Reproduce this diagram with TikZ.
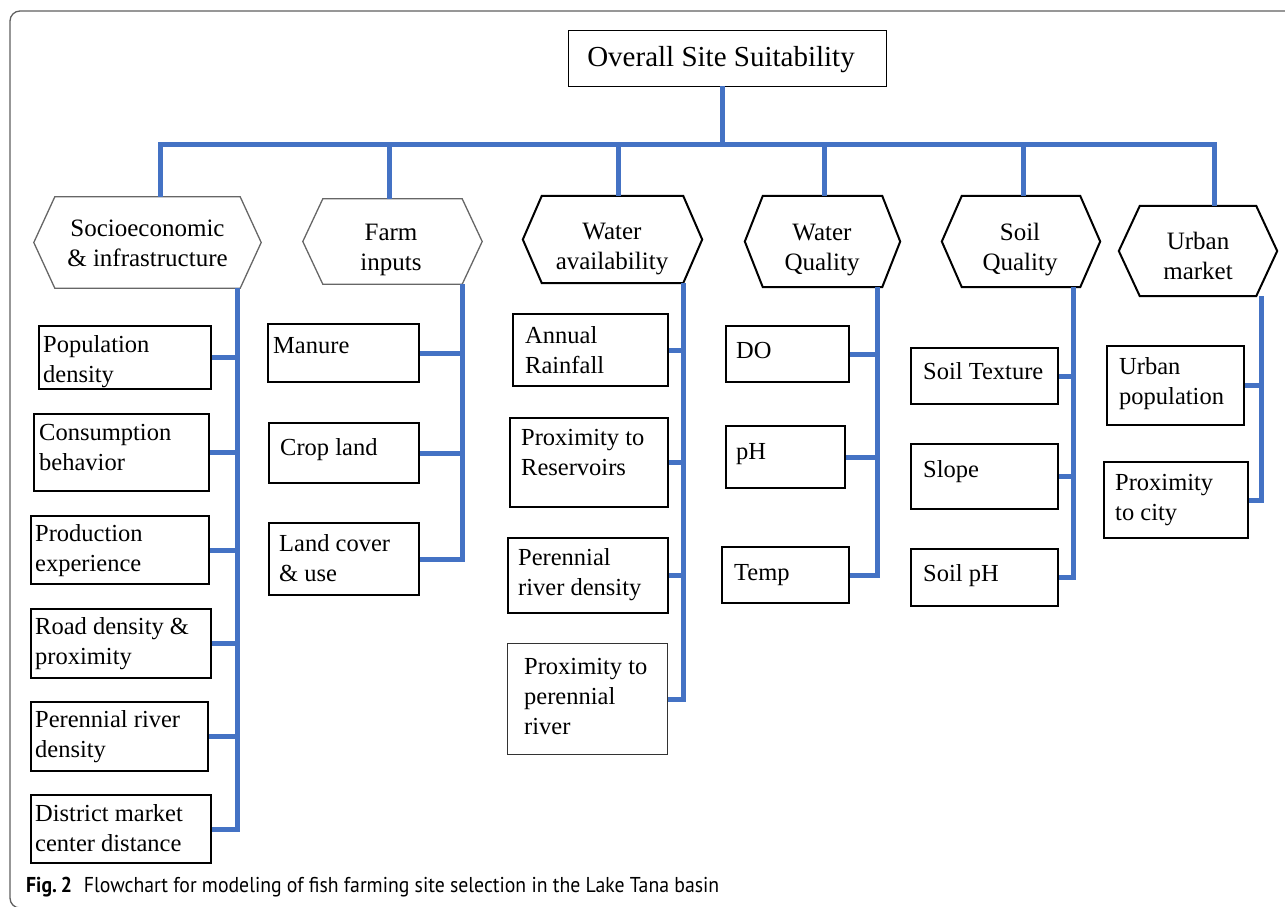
\documentclass[tikz,border=0pt]{standalone}
\usepackage{fontspec}
\usepackage{graphicx}
\setmainfont{Liberation Serif}
\newfontfamily\capfont{PT Sans}
\definecolor{linkblue}{RGB}{68,114,196}
\definecolor{framegray}{RGB}{95,95,95}
\newcommand\leaffont{\fontsize{24.5}{30}\selectfont}
\newcommand\hexfont{\fontsize{25}{30}\selectfont}
\newcommand\hexout[3]{%
  \draw[#3] ([xshift=#2]#1.north west) -- ([xshift=-#2]#1.north east) -- (#1.east)
    -- ([xshift=-#2]#1.south east) -- ([xshift=#2]#1.south west) -- (#1.west) -- cycle;}
\begin{document}
\begin{tikzpicture}[x=1pt,y=-1pt,
  link/.style={draw=linkblue,line width=5pt},
  leaf/.style={draw=black,line width=2pt,inner sep=0pt,anchor=north west},
  thinleaf/.style={draw=black!80,line width=1.3pt,inner sep=0pt,anchor=north west},
  ltxt/.style={inner sep=0pt,anchor=north west,align=left,font=\leaffont,execute at begin node=\strut,yshift=-3pt},
  hexn/.style={inner sep=0pt},
  hext/.style={inner sep=0pt,align=center,font=\hexfont},
  hexgray/.style={draw=black!60,line width=1.3pt},
  hexblack/.style={draw=black,line width=2pt},
  ovbox/.style={draw=black,line width=1.4pt,inner sep=0pt,anchor=north west}]
\useasboundingbox (0,0) rectangle (1285,906);
\clip (0,0) rectangle (1285,906);
\draw[draw=framegray,line width=1.3pt,rounded corners=10pt] (10,11) rectangle (1310,908);

% top
\node[ovbox,minimum width=318,minimum height=56] (ov) at (568,30) {};
\node[inner sep=0pt,font=\fontsize{29}{34}\selectfont] (ovT) at (721,60) {Overall Site Suitability};

% hexagons
\node[hexn,minimum width=227,minimum height=91] (h1) at (147.5,242.5) {};
\node[hexn,minimum width=179,minimum height=85] (h2) at (392.5,241.5) {};
\node[hexn,minimum width=179,minimum height=87] (h3) at (612.5,239.5) {};
\node[hexn,minimum width=155,minimum height=91] (h4) at (822.5,241.5) {};
\node[hexn,minimum width=158,minimum height=91] (h5) at (1021,241.5) {};
\node[hexn,minimum width=158,minimum height=90] (h6) at (1198,251) {};
\node[hext] (h1T) at (147.5,243) {Socioeconomic\\\& infrastructure};
\node[hext] (h2T) at (391,250) {Farm\\inputs};
\node[hext] (h3T) at (612,249) {Water\\availability};
\node[hext] (h4T) at (822,250) {Water\\Quality};
\node[hext] (h5T) at (1020,250) {Soil\\Quality};
\node[hext] (h6T) at (1198,256) {Urban\\market};
\hexout{h1}{21pt}{hexgray}
\hexout{h2}{20pt}{hexgray}
\hexout{h3}{19pt}{hexblack}
\hexout{h4}{18pt}{hexblack}
\hexout{h5}{20pt}{hexblack}
\hexout{h6}{21pt}{hexblack}

% bar
\coordinate (d0) at (722,86);
\coordinate (d1) at (160,144);
\coordinate (d2) at (389,144);
\coordinate (d3) at (618,144);
\coordinate (d4) at (824,144);
\coordinate (d5) at (1023,144);
\coordinate (d6) at (1214,144);
\draw[link] (d0) -- (d0 |- d1);
\draw[link] (d1 |- h1.north) -- (d1) -- (d6) -- (d6 |- h6.north);
\draw[link] (d2) -- (d2 |- h2.north);
\draw[link] (d3) -- (d3 |- h3.north);
\draw[link] (d4) -- (d4 |- h4.north);
\draw[link] (d5) -- (d5 |- h5.north);

% column 1
\node[leaf,minimum width=172,minimum height=63] (pop) at (38,325) {};
\node[leaf,minimum width=175,minimum height=77] (con) at (33,413) {};
\node[leaf,minimum width=178,minimum height=68] (pro) at (30,515) {};
\node[leaf,minimum width=180,minimum height=69] (road) at (30,608) {};
\node[leaf,minimum width=177,minimum height=69] (per1) at (30,701) {};
\node[leaf,minimum width=180,minimum height=68] (dis) at (30,794) {};
\node[ltxt] (popT) at (43,332) {Population\\density};
\node[ltxt] (conT) at (39,421) {Consumption\\behavior};
\node[ltxt] (proT) at (35,521) {Production\\experience};
\node[ltxt] (roadT) at (35,614) {Road density \&\\proximity};
\node[ltxt] (per1T) at (35,707) {Perennial river\\density};
\node[ltxt] (disT) at (35,801) {District market\\center distance};

% column 2
\node[leaf,minimum width=151,minimum height=58] (man) at (267,323) {};
\node[leaf,minimum width=150,minimum height=60] (crop) at (268,422) {};
\node[leaf,minimum width=150,minimum height=72] (land) at (268,522) {};
\node[ltxt] (manT) at (273,329) {Manure};
\node[ltxt] (cropT) at (280,431) {Crop land};
\node[ltxt] (landT) at (279,531) {Land cover\\\& use};

% column 3
\node[leaf,minimum width=155,minimum height=72] (ann) at (512,313) {};
\node[leaf,minimum width=158,minimum height=89] (res) at (509,417) {};
\node[leaf,minimum width=160,minimum height=75] (per2) at (507,537) {};
\node[thinleaf,minimum width=160,minimum height=111] (ppr) at (507,643) {};
\node[ltxt] (annT) at (525,323) {Annual\\Rainfall};
\node[ltxt] (resT) at (521,426) {Proximity to\\Reservoirs};
\node[ltxt] (per2T) at (518,545) {Perennial\\river density};
\node[ltxt] (pprT) at (524,655) {Proximity to\\perennial\\river};

% column 4
\node[leaf,minimum width=123,minimum height=56] (do) at (725,325) {};
\node[leaf,minimum width=119,minimum height=62] (ph) at (725,425) {};
\node[leaf,minimum width=127,minimum height=56] (temp) at (721,546) {};
\node[ltxt] (doT) at (736,334) {DO};
\node[ltxt] (phT) at (736,435) {pH};
\node[ltxt] (tempT) at (734,556) {Temp};

% column 5
\node[leaf,minimum width=147,minimum height=56] (tex) at (910,347) {};
\node[leaf,minimum width=147,minimum height=65] (slope) at (910,443) {};
\node[leaf,minimum width=147,minimum height=57] (sph) at (910,548) {};
\node[ltxt] (texT) at (923,355) {Soil Texture};
\node[ltxt] (slopeT) at (923,453) {Slope};
\node[ltxt] (sphT) at (923,557) {Soil pH};

% column 6
\node[leaf,minimum width=137,minimum height=79] (upop) at (1106,345) {};
\node[leaf,minimum width=144,minimum height=76] (city) at (1103,461) {};
\node[ltxt] (upopT) at (1119,354) {Urban\\population};
\node[ltxt] (cityT) at (1115,471) {Proximity\\to city};

% side spines
\coordinate (v1) at (237,288);
\coordinate (v2) at (462,284);
\coordinate (v3) at (683,283);
\coordinate (v4) at (877,287);
\coordinate (v5) at (1073,287);
\coordinate (v6) at (1261,296);
\draw[link] (v1) -- (v1 |- dis.east) -- (dis.east);
\foreach \b in {pop,con,pro,road,per1} \draw[link] (\b.east) -- (\b.east -| v1);
\draw[link] (v2) -- (v2 |- land.east) -- (land.east);
\foreach \b in {man,crop} \draw[link] (\b.east) -- (\b.east -| v2);
\draw[link] (v3) -- (v3 |- ppr.east) -- (ppr.east);
\foreach \b in {ann,res,per2} \draw[link] (\b.east) -- (\b.east -| v3);
\draw[link] (v4) -- (v4 |- temp.east) -- (temp.east);
\foreach \b in {do,ph} \draw[link] (\b.east) -- (\b.east -| v4);
\draw[link] (v5) -- (v5 |- sph.east) -- (sph.east);
\foreach \b in {tex,slope} \draw[link] (\b.east) -- (\b.east -| v5);
\draw[link] (v6) -- (v6 |- city.east) -- (city.east);
\draw[link] (upop.east) -- (upop.east -| v6);

% caption
\node[anchor=base west,inner sep=0pt] (cap) at (26,892) {\resizebox{693pt}{\height}{\capfont\fontsize{21.5}{25}\selectfont\textbf{Fig.\hspace{0.2em}2}\hspace{0.6em}Flowchart for modeling of fish farming site selection in the Lake Tana basin}};
\end{tikzpicture}
\end{document}
